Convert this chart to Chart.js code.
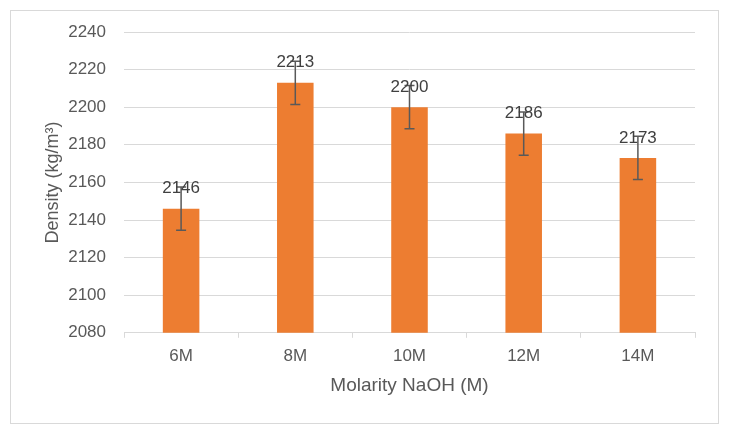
<!DOCTYPE html>
<html>
<head>
<meta charset="utf-8">
<script src="https://cdn.jsdelivr.net/npm/chart.js@4/dist/chart.umd.min.js"></script>
<style>
  html, body { margin: 0; padding: 0; background: #fff; }
  #wrap { position: relative; width: 730px; height: 435px; }
  #frame { position: absolute; left: 10px; top: 10px; width: 707px; height: 412px; border: 1px solid #d9d9d9; }
  canvas { position: absolute; left: 0; top: 0; }
</style>
</head>
<body>
<div id="wrap">
  <div id="frame"></div>
  <canvas id="densityChart" width="730" height="435"></canvas>
</div>
<script>
const molarity = ["6M", "8M", "10M", "12M", "14M"];
const density = [2146, 2213, 2200, 2186, 2173];
const errors = [11.5, 11.5, 11.5, 11.5, 11.5];

const font = "'Liberation Sans', Arial, sans-serif";

// error bars + value labels drawn on top of the bars
const extras = {
  id: "extras",
  afterDatasetsDraw(chart) {
    const ctx = chart.ctx;
    const y = chart.scales.y;
    const bars = chart.getDatasetMeta(0).data;
    ctx.save();
    bars.forEach((bar, i) => {
      const top = y.getPixelForValue(density[i] + errors[i]);
      const bot = y.getPixelForValue(density[i] - errors[i]);
      ctx.strokeStyle = "#595959";
      ctx.lineWidth = 1.5;
      ctx.beginPath();
      ctx.moveTo(bar.x, top); ctx.lineTo(bar.x, bot);
      ctx.moveTo(bar.x - 5, top); ctx.lineTo(bar.x + 5, top);
      ctx.moveTo(bar.x - 5, bot); ctx.lineTo(bar.x + 5, bot);
      ctx.stroke();
    });
    ctx.fillStyle = "#404040";
    ctx.font = "17px " + font;
    ctx.textAlign = "center";
    ctx.textBaseline = "middle";
    bars.forEach((bar, i) => {
      ctx.fillText(String(density[i]), bar.x, bar.y - 20);
    });
    ctx.restore();
  }
};

new Chart("densityChart", {
  type: "bar",
  data: {
    labels: molarity,
    datasets: [{
      data: density,
      backgroundColor: "#ED7D31",
      categoryPercentage: 1,
      barPercentage: 0.32
    }]
  },
  options: {
    responsive: false,
    animation: false,
    layout: { padding: { left: 38, top: 32, right: 35, bottom: 34 } },
    plugins: { legend: { display: false }, tooltip: { enabled: false } },
    scales: {
      x: {
        grid: { drawOnChartArea: false, drawTicks: true, tickLength: 5, color: "#d9d9d9", offset: true },
        border: { color: "#d9d9d9" },
        ticks: { color: "#595959", font: { size: 17, family: font }, padding: 8 },
        title: { display: true, text: "Molarity NaOH (M)", color: "#595959", font: { size: 19, family: font }, padding: { top: 0 } }
      },
      y: {
        min: 2080,
        max: 2240,
        ticks: { stepSize: 20, color: "#595959", font: { size: 17, family: font }, padding: 18, callback: v => String(v) },
        grid: { color: "#d9d9d9", drawTicks: false },
        border: { display: false },
        title: { display: true, text: "Density (kg/m³)", color: "#595959", font: { size: 18, family: font }, padding: { bottom: 6 } },
        afterFit(scale) { scale.width = 124 - 38; }
      }
    }
  },
  plugins: [extras]
});
</script>
</body>
</html>
